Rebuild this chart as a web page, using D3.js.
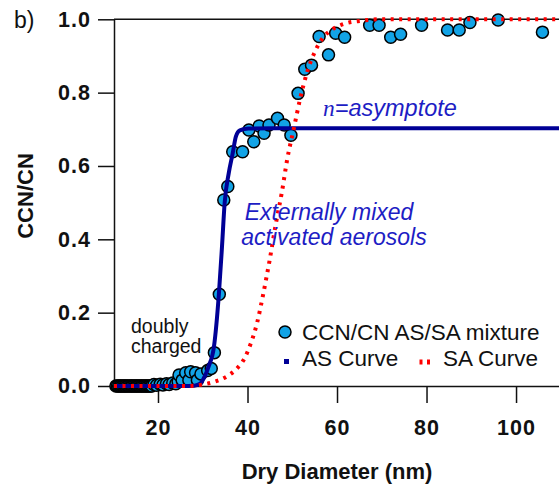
<!DOCTYPE html>
<html>
<head>
<meta charset="utf-8">
<script src="https://cdn.jsdelivr.net/npm/d3@7"></script>
<style>
  body { margin: 0; background: #fff; }
  svg { display: block; font-family: "Liberation Sans", Arial, sans-serif; }
  .axis text { font-size: 21.5px; font-weight: bold; fill: #111; letter-spacing: 1px; }
  .axis path, .axis line { stroke: #111; stroke-width: 1.5; }
</style>
</head>
<body>
<div id="chart"></div>
<script>
// measured points, dry diameter (nm) vs CCN/CN
const diameters = [
  10.6, 10.9, 11.2, 11.5, 11.7, 12.0, 12.3, 12.6, 12.8, 13.1, 13.4, 13.7, 14.0, 14.2, 14.5,
  14.8, 15.1, 15.3, 15.6, 15.9, 16.2, 16.4, 16.7, 17.0, 17.3, 17.5, 17.8, 18.1, 18.4, 18.6,
  19.1, 19.7, 20.5, 21.1, 21.9, 22.5, 23.3, 24.0, 24.5,
  24.7, 25.4, 26.2, 26.9, 27.3, 28.4, 28.8, 29.6, 31.1, 31.9, 32.6, 33.7, 34.7, 35.6,
  36.7, 38.9, 40.3, 41.4, 42.6, 43.7, 44.8, 46.7, 48.2, 49.7, 51.3, 52.8, 54.3, 56.0,
  58.1, 59.7, 61.7, 67.3, 69.4, 72.0, 74.2, 78.9, 84.7, 87.3, 89.7, 96.0, 105.9
];
const ratios = [
  0, 0, 0, 0, 0, 0, 0, 0, 0, 0, 0, 0, 0, 0, 0,
  0, 0, 0, 0, 0, 0, 0, 0, 0, 0, 0, 0, 0, 0, 0,
  0.004, 0.002, 0.005, 0.003, 0.006, 0.004, 0.008, 0.006, 0.012,
  0.030, 0.016, 0.036, 0.016, 0.039, 0.036, 0.016, 0.033, 0.042, 0.048, 0.091, 0.25, 0.507, 0.544,
  0.639, 0.639, 0.698, 0.666, 0.709, 0.689, 0.712, 0.730, 0.712, 0.684, 0.798, 0.864, 0.875, 0.953,
  0.903, 0.962, 0.951, 0.984, 0.984, 0.951, 0.959, 0.984, 0.971, 0.971, 0.991, 0.998, 0.965
];

// AS fit curve
const asX = [10.17, 25.3, 28.1, 29.5, 30.4, 31.3, 32.5, 33.6, 34.3, 34.9, 35.8, 36.7, 37.4, 38.3, 40.2, 45.8, 110];
const asY = [0, 0, 0.001, 0.007, 0.025, 0.053, 0.107, 0.25, 0.38, 0.5, 0.58, 0.635, 0.68, 0.697, 0.702, 0.703, 0.703];

// SA fit curve
const saX = [10.17, 27.1, 29.9, 32.7, 35.5, 37.4, 39.3, 40.7, 42.1, 43.5, 44.9, 46.3, 47.7, 48.9, 50.4, 51.7, 53.3, 55.2, 57.0, 58.9, 61.7, 65.4, 69.2, 110];
const saY = [0, 0, 0.004, 0.012, 0.027, 0.045, 0.075, 0.115, 0.17, 0.25, 0.34, 0.44, 0.53, 0.62, 0.705, 0.78, 0.855, 0.915, 0.952, 0.972, 0.988, 0.996, 1.0, 1.0];

const xTicks = [20, 40, 60, 80, 100];
const yTicks = [0, 0.2, 0.4, 0.6, 0.8, 1.0];

const width = 559;
const height = 485;

const points = diameters.map((d, i) => ({ x: d, y: ratios[i] }));
const asCurve = asX.map((d, i) => ({ x: d, y: asY[i] }));
const saCurve = saX.map((d, i) => ({ x: d, y: saY[i] }));

const svg = d3
  .select("#chart")
  .append("svg")
  .attr("width", width)
  .attr("height", height);

const x = d3.scaleLinear().domain([10.17, 109.6]).range([114, 559]);
const y = d3.scaleLinear().domain([0, 1]).range([386, 19.3]);

// axes
svg
  .append("g")
  .attr("class", "axis")
  .attr("transform", `translate(0,${y(0)})`)
  .call(d3.axisBottom(x).tickValues(xTicks).tickSize(17).tickSizeOuter(0).tickPadding(17).tickFormat(d3.format("d")));

svg
  .append("g")
  .attr("class", "axis")
  .attr("transform", `translate(${x(10.17)},0)`)
  .call(d3.axisLeft(y).tickValues(yTicks).tickSize(16).tickSizeOuter(0).tickPadding(7).tickFormat(d3.format(".1f")));

svg
  .append("line")
  .attr("x1", x(10.17))
  .attr("x2", width)
  .attr("y1", y(1))
  .attr("y2", y(1))
  .attr("stroke", "#111")
  .attr("stroke-width", 1.5);

// data
svg
  .append("g")
  .selectAll("circle")
  .data(points)
  .join("circle")
  .attr("cx", (d) => x(d.x))
  .attr("cy", (d) => y(d.y))
  .attr("r", 6)
  .attr("fill", "#12a3e6")
  .attr("stroke", "#000")
  .attr("stroke-width", 1.5);

const line = d3
  .line()
  .x((d) => x(d.x))
  .y((d) => y(d.y))
  .curve(d3.curveMonotoneX);

svg
  .append("path")
  .datum(asCurve)
  .attr("d", line)
  .attr("fill", "none")
  .attr("stroke", "#000096")
  .attr("stroke-width", 4);

svg
  .append("path")
  .datum(saCurve)
  .attr("d", line)
  .attr("fill", "none")
  .attr("stroke", "#ff0000")
  .attr("stroke-width", 4)
  .attr("stroke-dasharray", "3,5.5");

// annotations
const blue = "#1d1dc4";

const asym = svg
  .append("text")
  .attr("x", 323)
  .attr("y", 116)
  .attr("font-size", 23.5)
  .attr("font-style", "italic")
  .attr("fill", blue);
asym.append("tspan").attr("font-family", "Liberation Serif, Times New Roman, serif").text("n");
asym.append("tspan").text("=asymptote");

svg
  .append("text")
  .attr("x", 329)
  .attr("y", 220)
  .attr("text-anchor", "middle")
  .attr("font-size", 23)
  .attr("font-style", "italic")
  .attr("fill", blue)
  .text("Externally mixed");

svg
  .append("text")
  .attr("x", 334)
  .attr("y", 245)
  .attr("text-anchor", "middle")
  .attr("font-size", 23)
  .attr("font-style", "italic")
  .attr("fill", blue)
  .text("activated aerosols");

svg.append("text").attr("x", 131).attr("y", 333).attr("font-size", 19.5).attr("fill", "#111").text("doubly");
svg.append("text").attr("x", 131).attr("y", 353).attr("font-size", 19.5).attr("fill", "#111").text("charged");

svg.append("text").attr("x", 14).attr("y", 28).attr("font-size", 23).attr("fill", "#111").text("b)");

svg
  .append("text")
  .attr("x", 337)
  .attr("y", 479)
  .attr("text-anchor", "middle")
  .attr("font-size", 22)
  .attr("font-weight", "bold")
  .attr("fill", "#111")
  .text("Dry Diameter (nm)");

svg
  .append("text")
  .attr("transform", "translate(33,196) rotate(-90)")
  .attr("text-anchor", "middle")
  .attr("font-size", 22)
  .attr("font-weight", "bold")
  .attr("fill", "#111")
  .text("CCN/CN");

// legend
const legend = svg.append("g").attr("font-size", 22.5).attr("fill", "#111");
legend
  .append("circle")
  .attr("cx", 285)
  .attr("cy", 332)
  .attr("r", 6)
  .attr("fill", "#12a3e6")
  .attr("stroke", "#000")
  .attr("stroke-width", 1.5);
legend.append("text").attr("x", 302).attr("y", 340).text("CCN/CN AS/SA mixture");
legend.append("rect").attr("x", 284).attr("y", 359).attr("width", 5).attr("height", 5).attr("fill", "#000096");
legend.append("text").attr("x", 302).attr("y", 366).text("AS Curve");
legend
  .append("line")
  .attr("x1", 419.5)
  .attr("x2", 431)
  .attr("y1", 362)
  .attr("y2", 362)
  .attr("stroke", "#ff0000")
  .attr("stroke-width", 5)
  .attr("stroke-dasharray", "3,4.5");
legend.append("text").attr("x", 443).attr("y", 366).text("SA Curve");
</script>
</body>
</html>
